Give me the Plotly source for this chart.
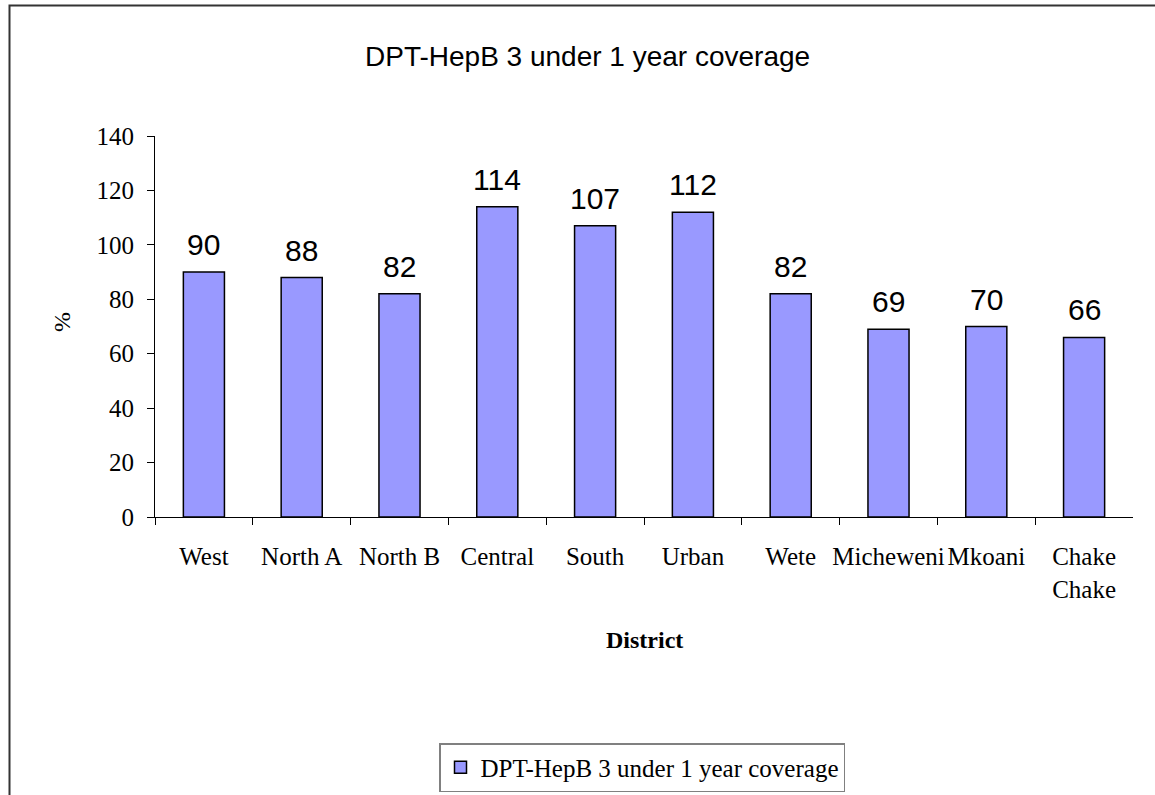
import plotly.graph_objects as go

districts = ["West", "North A", "North B", "Central", "South", "Urban", "Wete",
             "Micheweni", "Mkoani", "Chake<br>Chake"]
coverage = [90, 88, 82, 114, 107, 112, 82, 69, 70, 66]
series_name = "DPT-HepB 3 under 1 year coverage"
y_ticks = [0, 20, 40, 60, 80, 100, 120, 140]

W, H = 1155, 795
px = lambda x: x / W
py = lambda y: 1 - y / H

fig = go.Figure()
fig.add_trace(go.Bar(
    x=districts, y=coverage, name=series_name,
    marker=dict(color="#9999FF", line=dict(color="#000000", width=1.5)),
    width=0.42, showlegend=True,
))

for d, v in zip(districts, coverage):
    fig.add_annotation(x=d, y=v, xref="x", yref="y", text=str(v), showarrow=False,
                       yanchor="bottom", yshift=9,
                       font=dict(family="Liberation Sans, Arial", size=30, color="#000"))

serif = "Liberation Serif, Times New Roman, serif"
fig.update_layout(
    template="none",
    width=W, height=H,
    margin=dict(l=0, r=0, t=0, b=0, pad=0, autoexpand=False),
    paper_bgcolor="white", plot_bgcolor="white",
    xaxis=dict(domain=[px(155), px(1133)], type="category", tickson="boundaries",
               ticks="outside", ticklen=7, tickcolor="#000", tickwidth=1, showline=True,
               linecolor="#000", linewidth=1, showgrid=False, automargin=False,
               tickangle=0, ticklabelstandoff=17,
               tickfont=dict(family=serif, size=25, color="#000")),
    yaxis=dict(domain=[py(517), py(136)], range=[0, 140], tickvals=y_ticks,
               ticks="outside", ticklen=7, tickcolor="#000", tickwidth=1, showline=True,
               linecolor="#000", linewidth=1, showgrid=False, zeroline=False,
               automargin=False, ticklabelstandoff=8,
               tickfont=dict(family=serif, size=25, color="#000")),
    legend=dict(orientation="h", x=px(642), xanchor="center", y=py(792), yanchor="bottom",
                bordercolor="#808080", borderwidth=1.5, bgcolor="white",
                font=dict(family=serif, size=25, color="#000"), itemwidth=30),
    showlegend=True,
)

fig.add_annotation(text="DPT-HepB 3 under 1 year coverage", xref="paper", yref="paper",
                   x=px(587), y=py(57), showarrow=False, xanchor="center", yanchor="middle",
                   font=dict(family="Liberation Sans, Arial", size=28, color="#000"))
fig.add_annotation(text="<b>District</b>", xref="paper", yref="paper",
                   x=px(644), y=py(640), showarrow=False, xanchor="center", yanchor="middle",
                   font=dict(family=serif, size=24, color="#000"))
fig.add_annotation(text="%", xref="paper", yref="paper", textangle=-90,
                   x=px(62), y=py(322), showarrow=False, xanchor="center", yanchor="middle",
                   font=dict(family=serif, size=24, color="#000"))

fig.add_shape(type="rect", xref="paper", yref="paper",
              x0=px(9.5), x1=1.02, y0=-0.02, y1=py(5.5),
              line=dict(color="#333333", width=2), fillcolor="rgba(0,0,0,0)")

fig.write_html("out.html", config={"displayModeBar": False},
               post_script="document.body.style.margin='0';")
